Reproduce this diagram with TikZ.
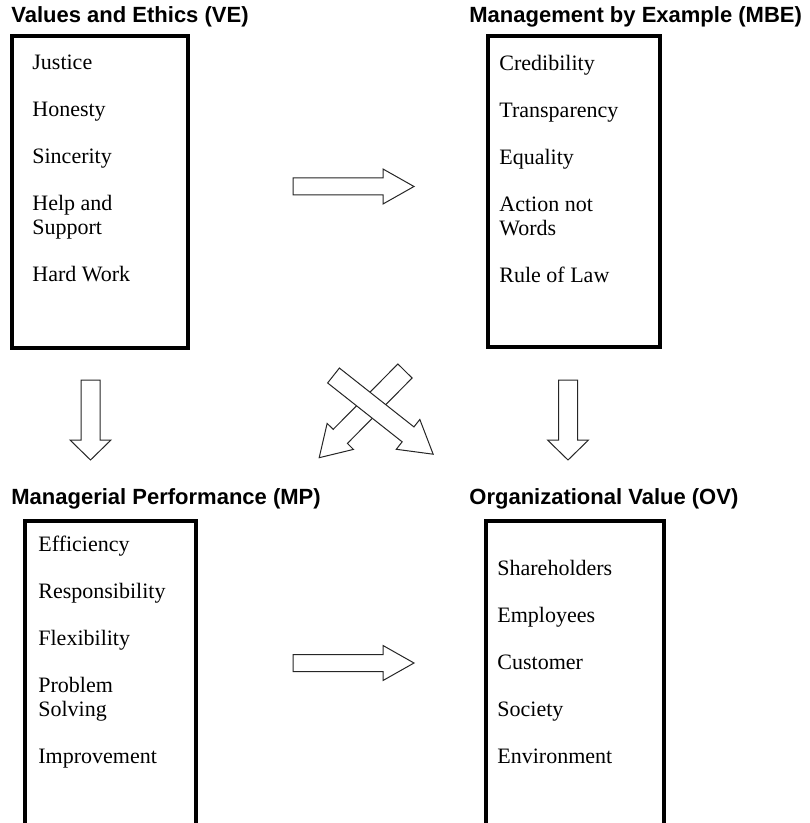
\documentclass[tikz,border=0pt]{standalone}
\usepackage{fontspec}
\setmainfont{Liberation Serif}
\newfontfamily\headfont{Liberation Sans}
\usetikzlibrary{positioning}

% hollow block arrow: tail, angle, length, head length, half shaft, half head
\newcommand{\blockarrow}[6]{%
    \draw [hollow, shift={(#1)}, rotate=#2]
        (0,-#5) -- ({#3-#4},-#5) -- ({#3-#4},-#6) -- (#3,0)
        -- ({#3-#4},#6) -- ({#3-#4},#5) -- (0,#5) -- cycle;
}

\begin{document}
\begin{tikzpicture}[
        x=0.5pt,
        y=-0.5pt,
        box/.style={
            rectangle,
            draw=black,
            line width=1.75pt,
            outer sep=0pt,
            anchor=north west,
        },
        heading/.style={
            anchor=base west,
            inner sep=0pt,
            font=\headfont\bfseries\fontsize{11}{13}\selectfont,
        },
        items/.style={
            anchor=north west,
            inner sep=0pt,
            align=left,
            font=\fontsize{11}{11.75}\selectfont,
        },
        hollow/.style={
            draw=black!85,
            line width=0.5pt,
            fill=white,
            line join=miter,
        },
    ]
        \useasboundingbox (0,0) rectangle (809,823);
        \clip (0,0) rectangle (809,823);

        % the four groups
        \node [heading] (vetitle) at (11,23) {Values and Ethics (VE)};
        \node [box, minimum width=88pt, minimum height=156pt] (ve) at (12,36) {};
        \node [items] (velist) at (32,55)
            {Justice\\[11.75pt]Honesty\\[11.75pt]Sincerity\\[11.75pt]Help and\\Support\\[11.75pt]Hard Work};

        \node [heading] (mbetitle) at (469,23) {Management by Example (MBE)};
        \node [box, minimum width=86pt, minimum height=155.5pt] (mbe) at (488,36) {};
        \node [items] (mbelist) at (499,55)
            {Credibility\\[11.75pt]Transparency\\[11.75pt]Equality\\[11.75pt]Action not\\Words\\[11.75pt]Rule of Law};

        \node [heading] (mptitle) at (11,504) {Managerial Performance (MP)};
        \node [box, minimum width=85.5pt, minimum height=170pt] (mp) at (25,521) {};
        \node [items] (mplist) at (38,536)
            {Efficiency\\[11.75pt]Responsibility\\[11.75pt]Flexibility\\[11.75pt]Problem\\Solving\\[11.75pt]Improvement};

        \node [heading] (ovtitle) at (469,504) {Organizational Value (OV)};
        \node [box, minimum width=89pt, minimum height=170pt] (ov) at (486,521) {};
        \node [items] (ovlist) at (497,560)
            {Shareholders\\[11.75pt]Employees\\[11.75pt]Customer\\[11.75pt]Society\\[11.75pt]Environment};

        % arrows between them
        \coordinate (vetombe) at (293,186.5);
        \coordinate (mptoov) at (293,663);
        \coordinate (vetomp) at (90.5,380);
        \coordinate (mbetoov) at (568,380);
        \coordinate (mbetomp) at (405,371);
        \coordinate (vetoov) at (333.5,375.5);

        \blockarrow{vetombe}{0}{121}{31}{8.5}{17.5}
        \blockarrow{mptoov}{0}{121}{31}{8.5}{17.5}
        \blockarrow{vetomp}{-90}{80}{20}{9.5}{20.5}
        \blockarrow{mbetoov}{-90}{80}{20}{9.5}{20.5}
        \blockarrow{mbetomp}{-134.7}{122}{30}{10}{18.5}
        \blockarrow{vetoov}{-38.3}{127}{32}{9.5}{19}
\end{tikzpicture}
\end{document}
